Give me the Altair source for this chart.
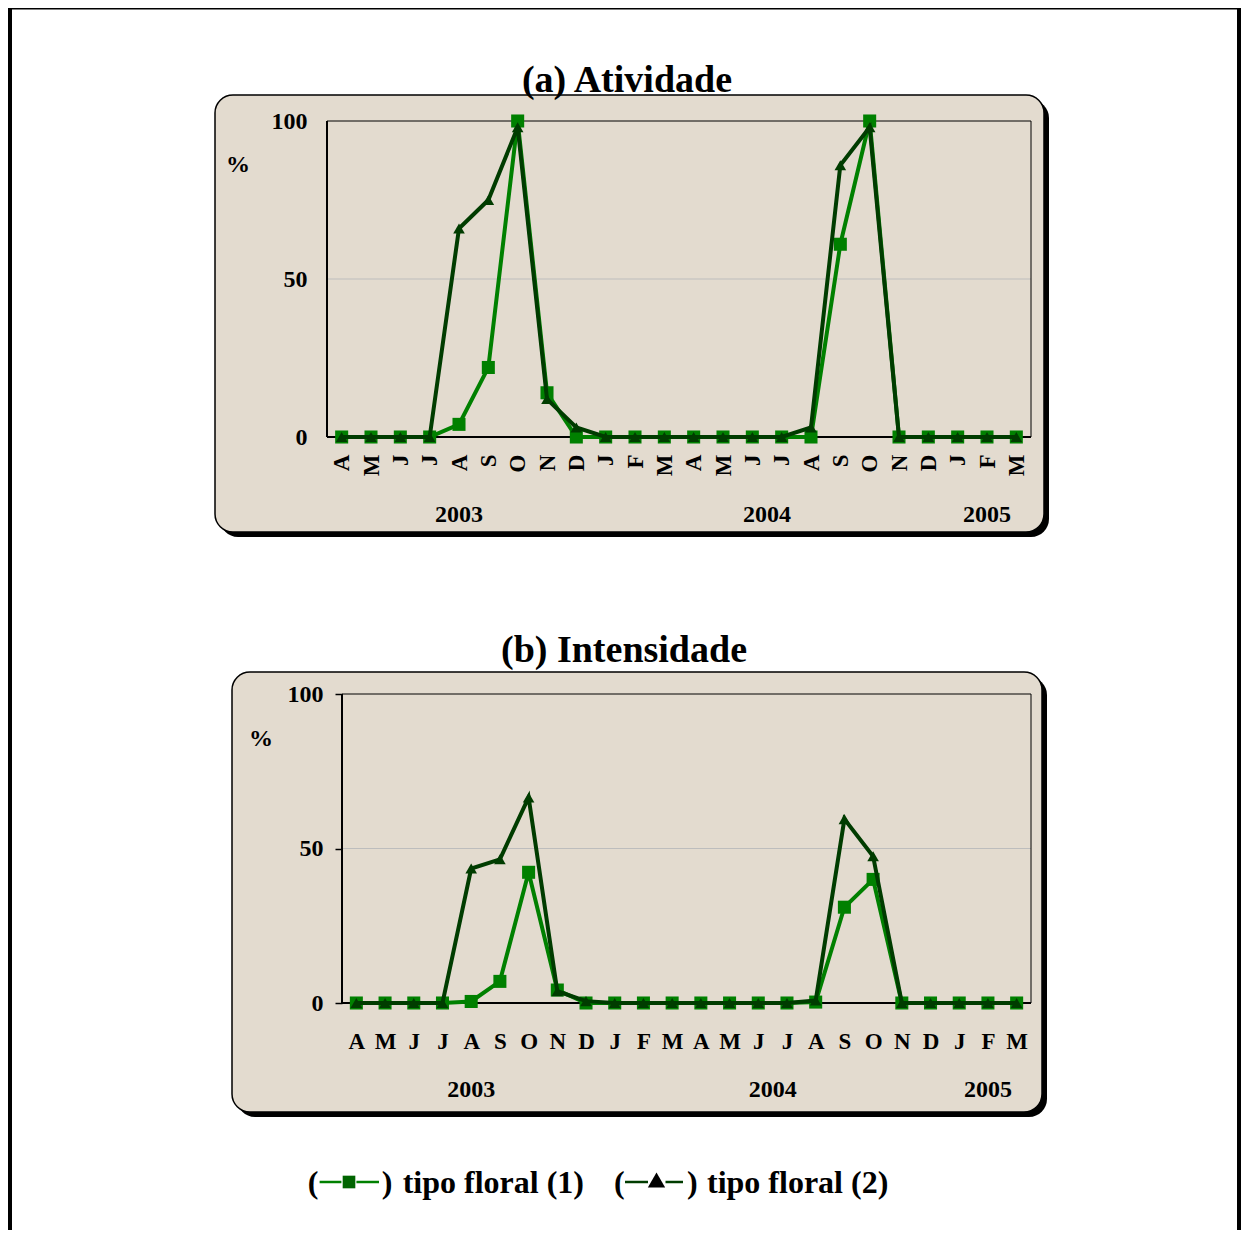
import altair as alt
import pandas as pd

# ---------------- data ----------------
months = ["A", "M", "J", "J", "A", "S", "O", "N", "D", "J", "F", "M",
          "A", "M", "J", "J", "A", "S", "O", "N", "D", "J", "F", "M"]
years = ["2003", "2004", "2005"]
year_pos = [4, 14.5, 22]
series_names = ["tipo floral (1)", "tipo floral (2)"]
titles = ["(a) Atividade", "(b) Intensidade"]

atividade_1 = [0, 0, 0, 0, 4, 22, 100, 14, 0, 0, 0, 0,
               0, 0, 0, 0, 0, 61, 100, 0, 0, 0, 0, 0]
atividade_2 = [0, 0, 0, 0, 66, 75, 98, 12, 3, 0, 0, 0,
               0, 0, 0, 0, 3, 86, 98, 0, 0, 0, 0, 0]
intensidade_1 = [0, 0, 0, 0, 0.5, 7, 42.3, 4.2, 0, 0, 0, 0,
                 0, 0, 0, 0, 0.3, 31, 40, 0, 0, 0, 0, 0]
intensidade_2 = [0, 0, 0, 0, 43.5, 46.5, 66.5, 3.8, 0.6, 0, 0, 0,
                 0, 0, 0, 0, 0.8, 59.5, 47.5, 0, 0, 0, 0, 0]

# ---------------- style ----------------
W, H = 1233, 1222
FONT = "Liberation Serif"
BEIGE = "#E3DBCF"
C1 = "#008000"
C2 = "#003C00"
N = len(months)
label_expr = "[" + ",".join("'%s'" % m for m in months) + "][datum.value]"

one = pd.DataFrame({"k": [0]})


def box_layers(x0, x1, y0, y1):
    shadow = alt.Chart(one).mark_rect(fill="black", cornerRadius=18).encode(
        x=alt.value(x0 + 5), x2=alt.value(x1 + 5), y=alt.value(y0 + 5), y2=alt.value(y1 + 5))
    main = alt.Chart(one).mark_rect(fill=BEIGE, stroke="black", strokeWidth=1.5,
                                    cornerRadius=18).encode(
        x=alt.value(x0), x2=alt.value(x1), y=alt.value(y0), y2=alt.value(y1))
    return [shadow, main]


def panel(v1, v2, x_range, y_range, x_angle, x_pad, y_pad, y_tick, box, title,
          title_xy, pct_xy, year_y):
    df = pd.DataFrame({
        "i": list(range(N)) * 2,
        "v": v1 + v2,
        "s": [series_names[0]] * N + [series_names[1]] * N,
    })
    xs = alt.Scale(domain=[-0.5, N - 0.5], range=x_range, nice=False, zero=False)
    ys = alt.Scale(domain=[0, 100], range=y_range, nice=False, zero=False)
    xaxis_kw = dict(orient="bottom", offset=y_range[0] - H, values=list(range(N)),
                    labelExpr=label_expr, labelAngle=x_angle, labelPadding=x_pad,
                    ticks=False, domain=False, grid=False, labelFont=FONT,
                    labelFontSize=23, labelFontWeight="bold", labelColor="black",
                    labelOverlap=False, labelFlush=False, title=None, zindex=1)
    if x_angle == 270:
        xaxis_kw.update(labelAlign="right", labelBaseline="middle")
    xaxis = alt.Axis(**xaxis_kw)
    yaxis_kw = dict(orient="left", offset=-x_range[0], values=[0, 50, 100],
                    labelPadding=y_pad, domain=False, grid=False, labelFont=FONT,
                    labelFontSize=24, labelFontWeight="bold", labelColor="black",
                    labelFlush=False, title=None, zindex=1)
    if y_tick > 0:
        yaxis_kw.update(ticks=True, tickSize=y_tick, tickColor="black", tickWidth=1.5)
    else:
        yaxis_kw.update(ticks=False)
    yaxis = alt.Axis(**yaxis_kw)

    def X(f):
        return alt.X(f, type="quantitative", scale=xs, axis=xaxis)

    def Y(f):
        return alt.Y(f, type="quantitative", scale=ys, axis=yaxis)

    frame_df = pd.DataFrame({"x0": [-0.5], "x1": [N - 0.5], "y0": [0], "y1": [100]})
    grid_df = pd.DataFrame({"x0": [-0.5], "x1": [N - 0.5], "g": [50]})
    year_df = pd.DataFrame({"yx": year_pos, "year": years})

    layers = box_layers(*box)
    layers.append(alt.Chart(grid_df).mark_rule(color="#BDBDBD", strokeWidth=1).encode(
        x=X("x0"), x2="x1", y=Y("g")))
    layers.append(alt.Chart(frame_df).mark_rect(fill="transparent", stroke="black",
                                                strokeWidth=1).encode(
        x=X("x0"), x2="x1", y=Y("y0"), y2="y1"))
    layers.append(alt.Chart(frame_df).mark_rule(color="black", strokeWidth=2).encode(
        x=X("x0"), y=Y("y0"), y2="y1"))
    layers.append(alt.Chart(frame_df).mark_rule(color="black", strokeWidth=2).encode(
        x=X("x0"), x2="x1", y=Y("y0")))
    d1 = df[df.s == series_names[0]]
    d2 = df[df.s == series_names[1]]
    layers.append(alt.Chart(d1).mark_line(color=C1, strokeWidth=4).encode(x=X("i"), y=Y("v")))
    layers.append(alt.Chart(d1).mark_point(shape="square", filled=True, opacity=1,
                                           color=C1, size=170).encode(x=X("i"), y=Y("v")))
    layers.append(alt.Chart(d2).mark_line(color=C2, strokeWidth=4).encode(x=X("i"), y=Y("v")))
    layers.append(alt.Chart(d2).mark_point(shape="triangle-up", filled=True, opacity=1,
                                           color=C2, size=135).encode(x=X("i"), y=Y("v")))
    layers.append(alt.Chart(year_df).mark_text(font=FONT, fontSize=24, fontWeight="bold",
                                               color="black", baseline="middle").encode(
        x=X("yx"), y=alt.value(year_y), text="year:N"))
    layers.append(alt.Chart(one).mark_text(font=FONT, fontSize=38, fontWeight="bold",
                                           color="black", baseline="alphabetic").encode(
        x=alt.value(title_xy[0]), y=alt.value(title_xy[1]), text=alt.value(title)))
    layers.append(alt.Chart(one).mark_text(font=FONT, fontSize=24, fontWeight="bold",
                                           color="black", baseline="middle").encode(
        x=alt.value(pct_xy[0]), y=alt.value(pct_xy[1]), text=alt.value("%")))
    return alt.layer(*layers)


panel_a = panel(atividade_1, atividade_2, [319, 1023], [429, 113], 270, 17, 20, 0,
                (207, 1036, 87, 524), titles[0], (619, 84), (230, 157), 507)
panel_b = panel(intensidade_1, intensidade_2, [334, 1023], [995, 686], 0, 27, 12, 7,
                (224, 1034, 664, 1104), titles[1], (616, 654), (253, 731), 1082)

# outer frame of the figure
frame_layers = [
    alt.Chart(one).mark_rect(fill="black").encode(
        x=alt.value(0), x2=alt.value(4), y=alt.value(0), y2=alt.value(H)),
    alt.Chart(one).mark_rect(fill="black").encode(
        x=alt.value(0), x2=alt.value(W), y=alt.value(0), y2=alt.value(1.5)),
    alt.Chart(one).mark_rect(fill="black").encode(
        x=alt.value(W - 4), x2=alt.value(W), y=alt.value(0), y2=alt.value(H)),
]

# legend built from text, rules and symbols
LEG_Y = 1185
leg_text = pd.DataFrame({
    "t": ["(", ")", series_names[0], "(", ")", series_names[1]],
    "px": [299.8, 373.7, 394.7, 606, 679, 699],
})
legend_layers = [
    alt.Chart(leg_text).mark_text(font=FONT, fontSize=32, fontWeight="bold", color="black",
                                  align="left", baseline="alphabetic").encode(
        x=alt.X("px:Q", scale=None), y=alt.value(LEG_Y), text="t:N"),
]
for (a, b, col) in [(311.6, 333.4, C1), (348.4, 371, C1), (617, 640, C2), (657.5, 675, C2)]:
    legend_layers.append(alt.Chart(one).mark_rule(color=col, strokeWidth=2.5).encode(
        x=alt.value(a), x2=alt.value(b), y=alt.value(LEG_Y - 11)))
legend_layers.append(alt.Chart(one).mark_point(shape="square", filled=True, opacity=1,
                                               color="#006400", size=160).encode(
    x=alt.value(341), y=alt.value(LEG_Y - 11)))
legend_layers.append(alt.Chart(one).mark_point(shape="triangle-up", filled=True, opacity=1,
                                               color="black", size=300).encode(
    x=alt.value(648.5), y=alt.value(LEG_Y - 13)))

chart = alt.layer(
    alt.layer(*frame_layers),
    panel_a,
    panel_b,
    alt.layer(*legend_layers),
).resolve_scale(x="independent", y="independent").properties(
    width=W, height=H,
    autosize=alt.AutoSizeParams(type="none", contains="padding"),
    padding=0,
    background="white",
).configure_view(strokeWidth=0)

chart.save("out.html", embed_options={"renderer": "svg", "actions": False})
